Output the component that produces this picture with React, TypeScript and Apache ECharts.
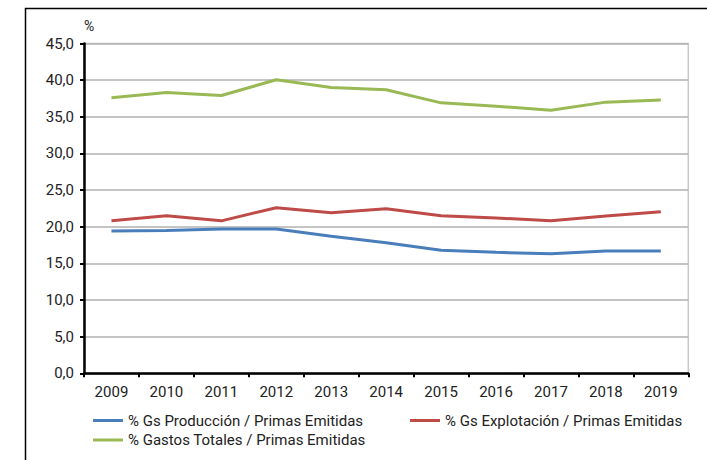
import React, { useEffect, useRef } from "react";
import * as echarts from "echarts";

const years = ["2009", "2010", "2011", "2012", "2013", "2014", "2015", "2016", "2017", "2018", "2019"];
const produccion = [19.4, 19.5, 19.7, 19.7, 18.7, 17.8, 16.8, 16.5, 16.3, 16.7, 16.7];
const explotacion = [20.8, 21.5, 20.8, 22.6, 21.9, 22.45, 21.5, 21.2, 20.8, 21.45, 22.05];
const totales = [37.6, 38.3, 37.9, 40.05, 39.0, 38.7, 36.9, 36.45, 35.9, 37.0, 37.3];
const seriesNames = [
  "% Gs Producción / Primas Emitidas",
  "% Gs Explotación / Primas Emitidas",
  "% Gastos Totales / Primas Emitidas",
];
const colors = ["#4a7ebb", "#be4b48", "#98b954"];

const FONT = "Roboto";

export default function App() {
  const ref = useRef<HTMLDivElement>(null);
  useEffect(() => {
    if (!ref.current) return;
    const chart = echarts.init(ref.current, null, { renderer: "svg" });
    const legendBase = {
      orient: "horizontal",
      icon: "rect",
      padding: 0,
      itemWidth: 30,
      itemHeight: 3,
      textStyle: { fontFamily: FONT, fontSize: 15, color: "#222" },
    };
    chart.setOption({
      animation: false,
      backgroundColor: "#fff",
      textStyle: { fontFamily: FONT },
      graphic: [
        {
          type: "polyline",
          shape: { points: [[25.5, 460], [25.5, 8.5], [707, 8.5]] },
          style: { stroke: "#000", lineWidth: 1.5, fill: "none" },
          silent: true,
        },
      ],
      grid: {
        left: 84,
        top: 43.5,
        right: 18.7,
        bottom: 86.7,
        show: true,
        borderColor: "#c8c8c8",
        borderWidth: 1.5,
      },
      legend: [
        { ...legendBase, left: 93, top: 413, data: [seriesNames[0]] },
        { ...legendBase, left: 410, top: 413, data: [seriesNames[1]] },
        { ...legendBase, left: 93, top: 432.5, data: [seriesNames[2]] },
      ],
      xAxis: {
        type: "category",
        data: years,
        boundaryGap: true,
        axisLine: { lineStyle: { color: "#000", width: 2.5 } },
        axisTick: { show: true, length: 4, lineStyle: { color: "#000", width: 2 } },
        axisLabel: { fontFamily: FONT, fontSize: 15, color: "#222", margin: 11 },
        splitLine: { show: false },
      },
      yAxis: {
        type: "value",
        min: 0,
        max: 45,
        interval: 5,
        name: "%",
        nameLocation: "end",
        nameGap: 11,
        nameTextStyle: { fontFamily: FONT, fontSize: 14, color: "#222", align: "left" },
        axisLine: { show: true, lineStyle: { color: "#000", width: 2.5 } },
        axisTick: { show: true, length: 4, lineStyle: { color: "#000", width: 2 } },
        axisLabel: {
          fontFamily: FONT,
          fontSize: 15,
          color: "#222",
          margin: 10,
          formatter: (v: number) => v.toFixed(1).replace(".", ","),
        },
        splitLine: { show: true, lineStyle: { color: "#b0b0b0", width: 1.5 } },
      },
      series: [produccion, explotacion, totales].map((d, i) => ({
        name: seriesNames[i],
        type: "line",
        data: d,
        symbol: "none",
        color: colors[i],
        lineStyle: { color: colors[i], width: 3 },
        itemStyle: { color: colors[i] },
      })),
    });
    return () => chart.dispose();
  }, []);
  return (
    <div
      ref={ref}
      style={{ position: "absolute", left: 0, top: 0, width: 707, height: 460 }}
    />
  );
}
